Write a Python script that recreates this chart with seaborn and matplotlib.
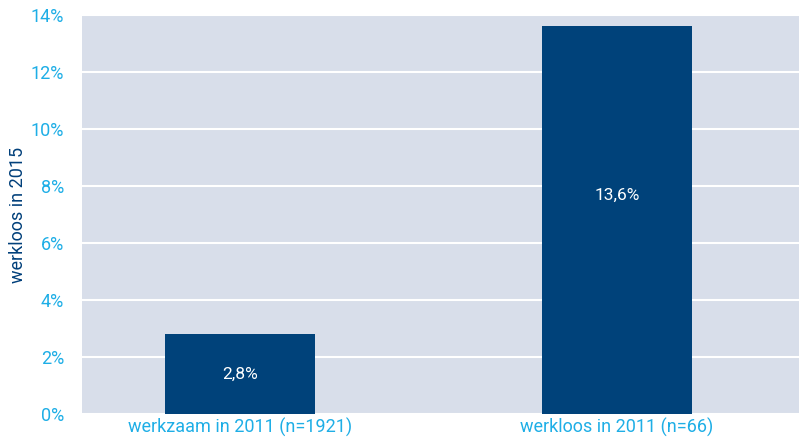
import matplotlib
matplotlib.use("Agg")
import matplotlib.pyplot as plt
import seaborn as sns
import pandas as pd
from matplotlib.ticker import FuncFormatter

categories = ["werkzaam in 2011 (n=1921)", "werkloos in 2011 (n=66)"]
values = [2.8, 13.6]
value_labels = ["2,8%", "13,6%"]

sns.set_theme(style="white")
plt.rcParams['font.family'] = ['Liberation Sans Narrow', 'Roboto', 'DejaVu Sans']

bar_color = "#00427a"
bg_color = "#d8deea"
tick_color = "#1eaee6"

df = pd.DataFrame({"cat": categories, "val": values})

fig = plt.figure(figsize=(7.99, 4.40), dpi=100)
ax = fig.add_axes([0.1026, 0.0591, 0.8974, 0.9068])
ax.set_facecolor(bg_color)

sns.barplot(data=df, x="cat", y="val", color=bar_color, width=0.398,
            saturation=1, linewidth=0, ax=ax, zorder=3)

# label sits a bit above the middle on the tall bar
for i, (v, lab) in enumerate(zip(values, value_labels)):
    ypos = v / 2 if v < 5 else v * 0.563
    ax.text(i, ypos, lab, ha="center", va="center",
            color="white", fontsize=12.5, zorder=4)

ax.set_ylim(0, 14)
ax.set_xlim(-0.419, 1.483)
ax.set_yticks(range(0, 15, 2))
ax.yaxis.set_major_formatter(FuncFormatter(lambda y, _: f"{int(y)}%"))
ax.grid(axis="y", color="white", linewidth=1.5, zorder=0)
ax.set_axisbelow(True)
for s in ax.spines.values():
    s.set_visible(False)

ax.tick_params(axis="y", colors=tick_color, labelsize=13, length=0, pad=13)
ax.tick_params(axis="x", colors=tick_color, labelsize=13, length=0, pad=3)
ax.set_xlabel("")
ax.set_ylabel("werkloos in 2015", color="#003f7a", fontsize=13)
ax.yaxis.set_label_coords(-0.076, 0.5)

fig.savefig("out.png", dpi=100)
